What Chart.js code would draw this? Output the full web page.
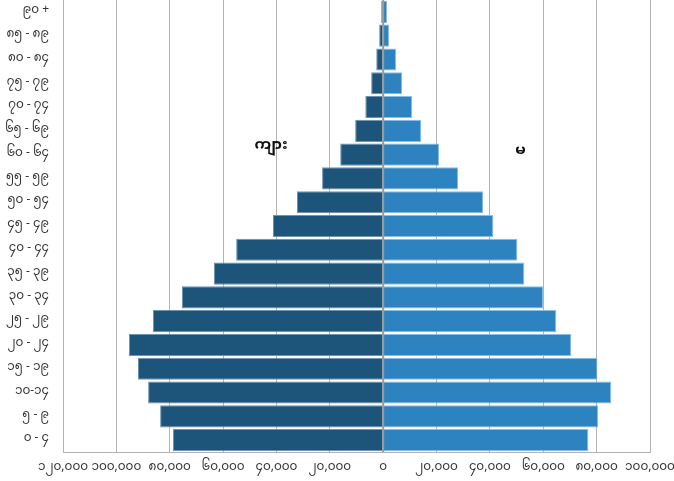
<!DOCTYPE html>
<html>
<head>
<meta charset="utf-8">
<script src="https://cdn.jsdelivr.net/npm/chart.js@4"></script>
<style>
  html, body { margin: 0; padding: 0; background: #fff; }
  #wrap { width: 674px; height: 481px; }
</style>
</head>
<body>
<div id="wrap"><canvas id="pyramide"></canvas></div>
<script>
// Groupes d'âge (du plus âgé au plus jeune)
var ageGroups = ['၉၀ +', '၈၅ - ၈၉', '၈၀ - ၈၄', '၇၅ - ၇၉', '၇၀ - ၇၄', '၆၅ - ၆၉', '၆၀ - ၆၄',
    '၅၅ - ၅၉', '၅၀ - ၅၄', '၄၅ - ၄၉', '၄၀ - ၄၄', '၃၅ - ၃၉', '၃၀ - ၃၄', '၂၅ - ၂၉',
    '၂၀ - ၂၄', '၁၅ - ၁၉', '၁၀-၁၄', '၅ - ၉', '၀ - ၄'];

// Population masculine (affichée à gauche)
var male = [750, 1500, 2600, 4500, 6700, 10500, 16100, 22900, 32300, 41300, 55100,
    63400, 75400, 86300, 95300, 91900, 88100, 83600, 78800];

// Population féminine (affichée à droite)
var female = [1500, 2250, 4900, 7100, 10900, 14300, 21000, 28100, 37500, 41300, 50300,
    52900, 60000, 64900, 70500, 80300, 85500, 80600, 76900];

// Étiquettes de l'axe x (de -120 000 à 100 000)
var xTickLabels = ['၁၂၀,၀၀၀', '၁၀၀,၀၀၀', '၈၀,၀၀၀', '၆၀,၀၀၀', '၄၀,၀၀၀', '၂၀,၀၀၀', '၀',
    '၂၀,၀၀၀', '၄၀,၀၀၀', '၆၀,၀၀၀', '၈၀,၀၀၀', '၁၀၀,၀၀၀'];

// Noms des séries
var seriesNames = ['ကျား', 'မ'];

var fontFamily = '"Noto Sans Myanmar", "Padauk", "Myanmar Text", "DejaVu Sans", sans-serif';

// Textes ကျား / မ et ligne du zéro dessinés par-dessus les barres
var overlayPlugin = {
    id: 'overlay',
    afterDatasetsDraw: function(chart) {
        var ctx = chart.ctx;
        var x = chart.scales.x;
        var y = chart.scales.y;
        var area = chart.chartArea;
        ctx.save();
        ctx.strokeStyle = '#9a9a9a';
        ctx.lineWidth = 2;
        var x0 = x.getPixelForValue(0);
        ctx.beginPath();
        ctx.moveTo(x0, area.top);
        ctx.lineTo(x0, area.bottom);
        ctx.stroke();

        ctx.fillStyle = '#111';
        ctx.font = 'bold 15px ' + fontFamily;
        ctx.textAlign = 'center';
        ctx.textBaseline = 'middle';
        var yMid = (y.getPixelForValue(5) + y.getPixelForValue(6)) / 2;
        ctx.fillText(seriesNames[0], x.getPixelForValue(-42000), yMid + 5);
        ctx.fillText(seriesNames[1], x.getPixelForValue(51500), yMid + 10);
        ctx.restore();
    }
};

var config = {
    type: 'bar',
    data: {
        labels: ageGroups,
        datasets: [{
            label: seriesNames[0],
            data: male.map(function(v) { return -v; }),
            backgroundColor: '#1d547a',
            borderColor: '#6e93b0',
            borderWidth: 1,
            barPercentage: 0.93,
            categoryPercentage: 1
        }, {
            label: seriesNames[1],
            data: female,
            backgroundColor: '#2d83c0',
            borderColor: '#8bbde0',
            borderWidth: 1,
            barPercentage: 0.93,
            categoryPercentage: 1
        }]
    },
    options: {
        indexAxis: 'y',
        responsive: true,
        maintainAspectRatio: false,
        animation: false,
        layout: { padding: { top: 0, right: 24, left: 0, bottom: 0 } },
        plugins: {
            legend: { display: false },
            tooltip: { enabled: false }
        },
        scales: {
            x: {
                stacked: true,
                min: -120000,
                max: 100000,
                ticks: {
                    stepSize: 20000,
                    maxRotation: 0,
                    autoSkip: false,
                    padding: 10,
                    color: '#333',
                    font: { family: fontFamily, size: 12 },
                    callback: function(value, index) { return xTickLabels[index]; }
                },
                grid: { color: '#b3b3b3', lineWidth: 1, drawTicks: false },
                border: { color: '#b3b3b3' },
                afterFit: function(scale) {
                    scale.height = 29;
                    scale.paddingLeft = 0;
                    scale.paddingRight = 0;
                }
            },
            y: {
                stacked: true,
                ticks: {
                    color: '#333',
                    padding: 6,
                    font: { family: fontFamily, size: 12 }
                },
                grid: { display: false },
                border: { color: '#b3b3b3' },
                afterFit: function(scale) {
                    scale.width = 63;
                    scale.paddingTop = 0;
                    scale.paddingBottom = 0;
                }
            }
        }
    },
    plugins: [overlayPlugin]
};

new Chart(document.getElementById('pyramide').getContext('2d'), config);
</script>
</body>
</html>
